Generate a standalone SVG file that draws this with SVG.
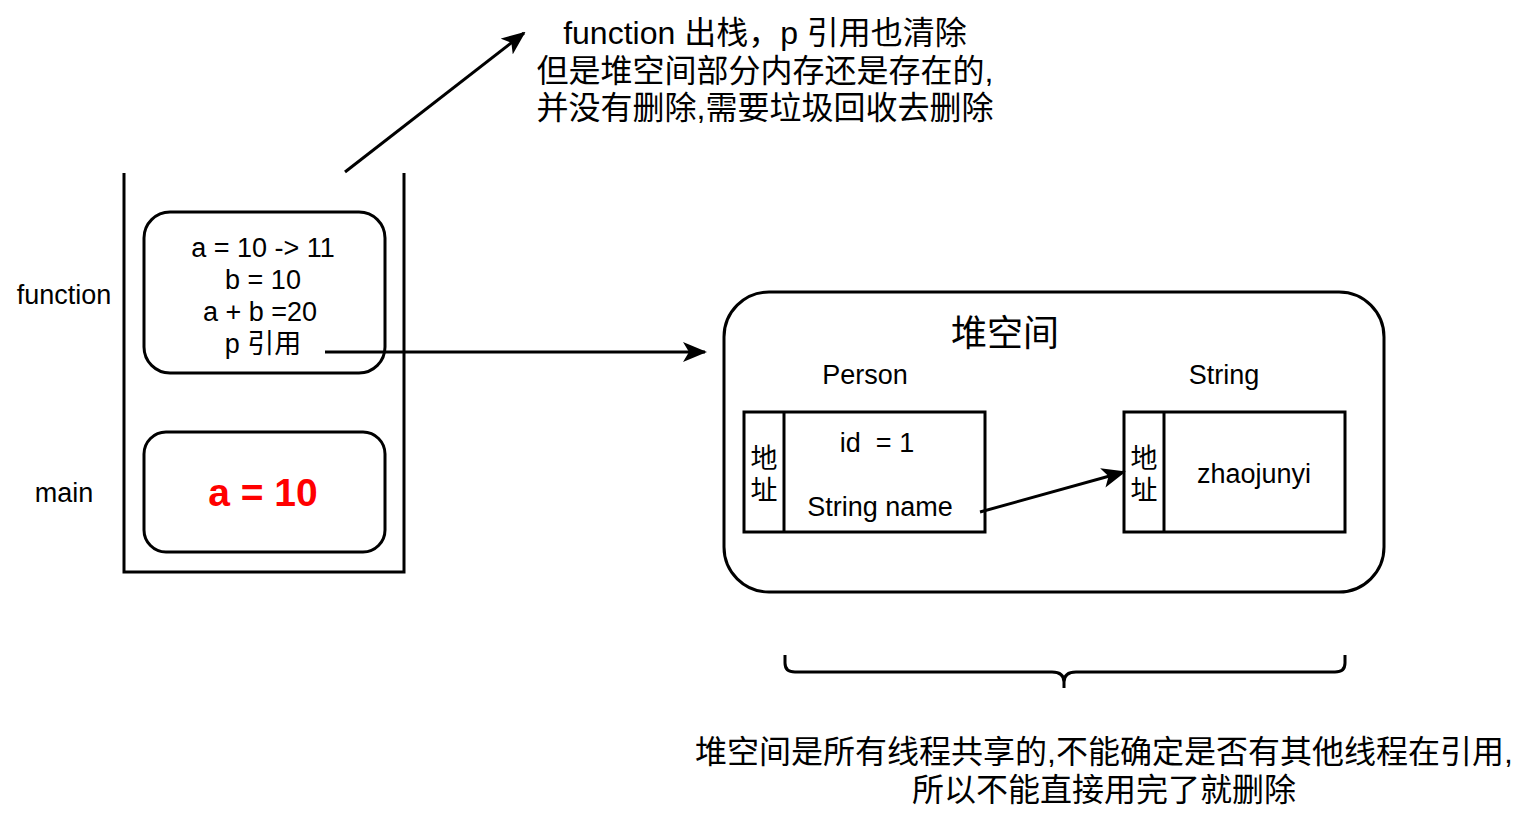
<svg xmlns="http://www.w3.org/2000/svg" width="1530" height="827" viewBox="0 0 1530 827">
<style>
  .ln { fill: none; stroke: #000; stroke-width: 3; }
  .box { fill: #fff; stroke: #000; stroke-width: 3; }
  .t { font-family: "Liberation Sans", "Noto Sans CJK SC", sans-serif; fill: #000; text-anchor: middle; white-space: pre; }
  .s27 { font-size: 27px; }
  .s32 { font-size: 32px; }
</style>
<defs>
  <marker id="arr" markerUnits="userSpaceOnUse" markerWidth="24" markerHeight="20" viewBox="0 0 24 20" refX="22" refY="10" orient="auto">
    <path d="M0,0 L24,10 L0,20 L6,10 Z" fill="#000"/>
  </marker>
</defs>
<rect width="1530" height="827" fill="#fff"/>

<g id="stack">
  <path class="ln" d="M124,173 V572 H404 V173"/>
  <text class="t s27" x="64" y="304">function</text>
  <text class="t s27" x="64" y="502">main</text>
</g>

<g id="function-frame">
  <rect class="box" x="144" y="212" width="241" height="161" rx="26"/>
  <text class="t s27" x="263" y="257">a = 10 -&gt; 11</text>
  <text class="t s27" x="263" y="289">b = 10</text>
  <text class="t s27" x="260" y="321">a + b =20</text>
  <text class="t s27" x="263" y="353">p 引用</text>
</g>

<g id="main-frame">
  <rect class="box" x="144" y="432" width="241" height="120" rx="22"/>
  <text class="t" x="263" y="506" style="font-size:39px;font-weight:bold;fill:#ff0000">a = 10</text>
</g>

<g id="note-top">
  <text class="t s32" x="765" y="44">function 出栈，p 引用也清除</text>
  <text class="t s32" x="765" y="82">但是堆空间部分内存还是存在的,</text>
  <text class="t s32" x="765" y="119">并没有删除,需要垃圾回收去删除</text>
</g>

<g id="heap">
  <rect class="box" x="724" y="292" width="660" height="300" rx="45"/>
  <text class="t" x="1005" y="346" style="font-size:36px">堆空间</text>
  <text class="t s27" x="865" y="384">Person</text>
  <text class="t s27" x="1224" y="384">String</text>
</g>

<g id="person">
  <rect class="box" x="744" y="412" width="241" height="120"/>
  <line class="ln" x1="784" y1="412" x2="784" y2="532"/>
  <text class="t s27" x="764" y="468">地</text>
  <text class="t s27" x="764" y="500">址</text>
  <text class="t s27" x="877" y="452">id  = 1</text>
  <text class="t s27" x="880" y="516">String name</text>
</g>

<g id="string">
  <rect class="box" x="1124" y="412" width="221" height="120"/>
  <line class="ln" x1="1164" y1="412" x2="1164" y2="532"/>
  <text class="t s27" x="1144" y="468">地</text>
  <text class="t s27" x="1144" y="500">址</text>
  <text class="t s27" x="1254" y="483">zhaojunyi</text>
</g>

<g id="note-bottom">
  <path class="ln" d="M785,655 V663 Q785,672 795,672 H1052 Q1064,672 1064,682 V688 M1064,682 Q1064,672 1076,672 H1335 Q1345,672 1345,663 V655"/>
  <text class="t s32" x="1104" y="763">堆空间是所有线程共享的,不能确定是否有其他线程在引用,</text>
  <text class="t s32" x="1104" y="801">所以不能直接用完了就删除</text>
</g>

<g id="connectors">
  <line class="ln" x1="345" y1="172" x2="524" y2="33" marker-end="url(#arr)"/>
  <line class="ln" x1="325" y1="352" x2="705" y2="352" marker-end="url(#arr)"/>
  <line class="ln" x1="980" y1="512" x2="1124" y2="472" marker-end="url(#arr)"/>
</g>
</svg>
